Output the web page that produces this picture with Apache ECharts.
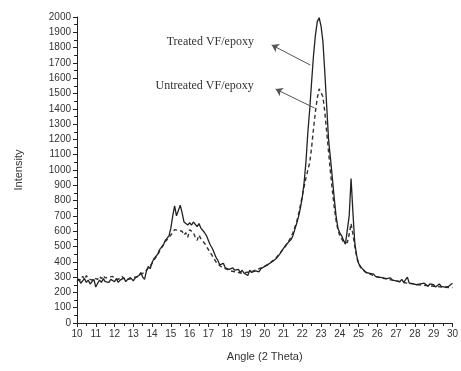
<!DOCTYPE html>
<html>
<head>
<meta charset="utf-8">
<script src="https://cdn.jsdelivr.net/npm/echarts@6/dist/echarts.min.js"></script>
<style>
html,body{margin:0;padding:0;background:#fff;}
#chart{width:461px;height:371px;}
</style>
</head>
<body>
<div id="chart"></div>
<script>
// Sampling grid: 10.0 to 30.0 degrees, step 0.1 (2 Theta)
const angleStart = 10, angleStep = 0.1;

// Treated VF/epoxy (solid line), intensity per 0.1 deg
const treated = [
  270, 285, 260, 275, 290, 265, 280, 255, 270, 285,
  235, 260, 280, 265, 290, 270, 280, 265, 285, 275,
  270, 290, 265, 280, 275, 295, 270, 285, 280, 290,
  275, 295, 285, 310, 330, 300, 285, 340, 370, 355,
  395, 420, 410, 450, 480, 470, 510, 540, 530, 570,
  620, 700, 765, 700, 690, 770, 720, 660, 670, 640,
  655, 640, 660, 650, 630, 650, 620, 610, 590, 570,
  540, 510, 490, 460, 430, 410, 380, 370, 390, 360,
  365, 350, 340, 360, 345, 335, 350, 330, 345, 325,
  330, 310, 345, 330, 320, 340, 350, 335, 355, 345,
  370, 360, 385, 375, 400, 395, 420, 430, 450, 470,
  480, 505, 520, 530, 545, 570, 610, 650, 695, 750,
  820, 920, 1060, 1250, 1400, 1580, 1750, 1880, 1970, 1995,
  1940, 1840, 1640, 1420, 1200, 1080, 950, 820, 700, 620,
  590, 570, 540, 515, 505, 700, 945, 720, 520, 440,
  390, 370, 355, 345, 330, 340, 325, 315, 320, 305,
  310, 300, 305, 295, 300, 290, 285, 295, 280, 290,
  275, 280, 270, 285, 265, 275, 300, 260, 270, 255,
  265, 250, 260, 255, 245, 260, 250, 240, 255, 245,
  250, 235, 245, 255, 240, 250, 235, 245, 240, 230,
  260
];

// Untreated VF/epoxy (dashed line)
const untreated = [
  290, 300, 280, 305, 285, 310, 290, 300, 280, 295,
  300, 285, 305, 290, 310, 295, 285, 300, 290, 305,
  290, 300, 285, 295, 305, 290, 300, 285, 295, 300,
  290, 300, 310, 305, 320, 315, 330, 345, 360, 370,
  390, 410, 430, 445, 470, 490, 510, 530, 545, 560,
  575, 590, 610, 620, 605, 615, 600, 575, 590, 560,
  610, 600, 590, 560, 540, 575, 550, 545, 520, 500,
  480, 460, 440, 420, 400, 390, 375, 365, 360, 355,
  350, 355, 340, 345, 335, 340, 330, 335, 325, 330,
  330, 325, 335, 330, 340, 345, 350, 355, 360, 365,
  370, 380, 385, 395, 405, 415, 425, 440, 455, 470,
  485, 500, 520, 540, 560, 590, 625, 660, 710, 770,
  830, 890, 950, 1000, 1050, 1150, 1270, 1380, 1470, 1530,
  1540, 1480, 1380, 1250, 1120, 990, 870, 760, 670, 610,
  570, 550, 530, 520, 525, 580, 650, 580, 500, 430,
  385, 365, 350, 340, 330, 330, 320, 315, 310, 305,
  300, 300, 295, 295, 290, 290, 285, 285, 280, 280,
  275, 275, 270, 270, 265, 265, 260, 260, 258, 255,
  255, 252, 250, 250, 248, 246, 245, 244, 242, 240,
  240, 238, 238, 236, 235, 235, 234, 233, 232, 232,
  232
];

// Annotation labels and arrow anchors (data units)
const labelTreated = 'Treated VF/epoxy';
const labelUntreated = 'Untreated VF/epoxy';
const labelTreatedAt = [17.1, 1837];
const labelUntreatedAt = [16.8, 1549];
const arrowTreated = [[22.43, 1686], [20.37, 1817]];
const arrowUntreated = [[22.65, 1405], [20.58, 1529]];

const xMin = 10, xMax = 30, yMin = 0, yMax = 2000;

function pairs(vals) {
  return vals.map((v, i) => [Math.round((angleStart + i * angleStep) * 10) / 10, v]);
}

const chart = echarts.init(document.getElementById('chart'), null, {renderer: 'canvas'});
const axisFont = {color: '#333', fontSize: 10, fontFamily: 'Liberation Sans, Arial, sans-serif'};

chart.setOption({
  animation: false,
  backgroundColor: '#fff',
  grid: {left: 77, right: 6, top: 17, bottom: 48, containLabel: false},
  xAxis: {
    type: 'value', min: xMin, max: xMax, interval: 1,
    name: 'Angle (2 Theta)', nameLocation: 'middle', nameGap: 28,
    nameTextStyle: {color: '#333', fontSize: 11, fontFamily: 'Liberation Sans, Arial, sans-serif'},
    axisLine: {show: true, onZero: false, lineStyle: {color: '#222', width: 1}},
    axisTick: {show: true, length: 4, inside: false, lineStyle: {color: '#222'}},
    minorTick: {show: true, splitNumber: 2, length: 3, lineStyle: {color: '#222'}},
    axisLabel: Object.assign({margin: 6, formatter: v => String(v)}, axisFont),
    splitLine: {show: false}
  },
  yAxis: {
    type: 'value', min: yMin, max: yMax, interval: 100,
    name: 'Intensity', nameLocation: 'middle', nameGap: 53,
    nameTextStyle: {color: '#333', fontSize: 11, fontFamily: 'Liberation Sans, Arial, sans-serif'},
    axisLine: {show: true, onZero: false, lineStyle: {color: '#222', width: 1}},
    axisTick: {show: true, length: 4, lineStyle: {color: '#222'}},
    minorTick: {show: true, splitNumber: 2, length: 3, lineStyle: {color: '#222'}},
    axisLabel: Object.assign({margin: 6, formatter: v => String(v)}, axisFont),
    splitLine: {show: false}
  },
  series: [
    {
      name: labelTreated, type: 'line', data: pairs(treated),
      showSymbol: false, symbol: 'none',
      lineStyle: {color: '#222', width: 1.3},
      z: 3,
      markLine: {
        silent: true, symbol: ['none', 'arrow'], symbolSize: 7,
        lineStyle: {color: '#555', width: 1, type: 'solid'},
        itemStyle: {color: '#555'},
        label: {show: false},
        data: [
          [{coord: arrowTreated[0]}, {coord: arrowTreated[1]}],
          [{coord: arrowUntreated[0]}, {coord: arrowUntreated[1]}]
        ]
      },
      markPoint: {
        silent: true, symbol: 'circle', symbolSize: 0,
        label: {show: true, position: 'inside', color: '#333', fontSize: 12,
                fontFamily: 'Liberation Serif, Times New Roman, serif',
                formatter: p => p.name},
        data: [
          {name: labelTreated, coord: labelTreatedAt},
          {name: labelUntreated, coord: labelUntreatedAt}
        ]
      }
    },
    {
      name: labelUntreated, type: 'line', data: pairs(untreated),
      showSymbol: false, symbol: 'none',
      lineStyle: {color: '#333', width: 1.4, type: [4, 3]},
      z: 2
    }
  ]
});
</script>
</body>
</html>
